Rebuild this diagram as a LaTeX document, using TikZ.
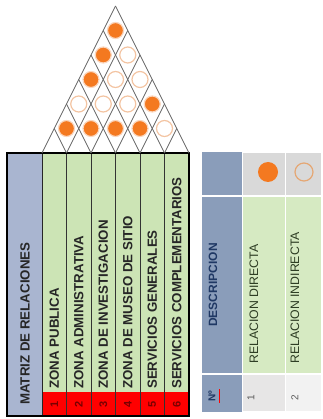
\documentclass[tikz,border=0pt]{standalone}
\usepackage{fontspec}
\setmainfont{Liberation Sans}
\definecolor{matblue}{RGB}{169,181,208}
\definecolor{legblue}{RGB}{138,157,186}
\definecolor{matgreen}{RGB}{204,228,181}
\definecolor{leggreen}{RGB}{214,234,194}
\definecolor{matred}{RGB}{255,0,0}
\definecolor{numred}{RGB}{120,0,0}
\definecolor{orng}{RGB}{244,121,32}
\definecolor{ring}{RGB}{243,196,162}
\definecolor{legring}{RGB}{229,167,116}
\definecolor{halo}{RGB}{250,214,190}
\definecolor{trigray}{RGB}{100,100,100}
\definecolor{navy}{RGB}{31,56,100}
\definecolor{dkgreen}{RGB}{45,60,35}
\definecolor{gryA}{RGB}{217,217,217}
\definecolor{gryB}{RGB}{231,230,230}
\definecolor{gryC}{RGB}{242,242,242}
\begin{document}
\begin{tikzpicture}[x=1pt,y=-1pt,
  tri/.style={draw=trigray,line width=0.8pt},
  dirc/.style={circle,fill=orng,draw=halo,line width=1.2pt,minimum size=16pt,inner sep=0pt},
  indc/.style={circle,draw=ring,line width=1.2pt,minimum size=16pt,inner sep=0pt},
  coltext/.style={rotate=90,anchor=west,inner sep=0pt,font=\bfseries\fontsize{13.3}{14}\selectfont,text=black!85},
  numtext/.style={rotate=90,inner sep=0pt,font=\bfseries\fontsize{11}{12}\selectfont,text=numred},
  legtext/.style={rotate=90,anchor=west,inner sep=0pt,font=\fontsize{12.3}{13}\selectfont,text=dkgreen},
  legcell/.style={draw=white,line width=1.5pt}]
\useasboundingbox (0,0) rectangle (322,419);

% ---- main matrix table ----
\fill[matblue] (7,153) rectangle (42,416);
\foreach \i in {0,...,5}{
  \fill[matgreen] ({42+24.5*\i},153) rectangle ({66.5+24.5*\i},392);
  \fill[matred] ({42+24.5*\i},392) rectangle ({66.5+24.5*\i},416);
}
\foreach \i in {0,...,6}{
  \coordinate (b\i) at ({42+24.5*\i},153);
  \coordinate (d\i) at ({42+24.5*\i},416);
  \coordinate (r\i) at ({(42+24.5*\i+189)/2},{153-(189-42-24.5*\i)});
  \coordinate (l\i) at ({(42+24.5*\i+42)/2},{153-24.5*\i});
}
\foreach \i in {1,...,5}{ \draw[black!80,line width=0.9pt] (b\i) -- (d\i); }
\draw[black!85,line width=1pt] (b0) -- (d0);
\draw[black,line width=1.2pt] (7,153) rectangle (189,416);

\node[coltext] (mat) at (25,405) {MATRIZ DE RELACIONES};
\foreach \i/\t in {0/ZONA PUBLICA,1/ZONA ADMINISTRATIVA,2/ZONA DE INVESTIGACION,3/ZONA DE MUSEO DE SITIO,4/SERVICIOS GENERALES,5/SERVICIOS COMPLEMENTARIOS}{
  \node[coltext] (z\i) at ({54.25+24.5*\i},389) {\t};
  \pgfmathtruncatemacro\n{\i+1}
  \node[numtext] (n\i) at ({54.25+24.5*\i},404) {\n};
}

% ---- relation triangle ----
\foreach \k/\j in {1/0,1/1,1/2,1/3,2/3,3/0,4/0,5/0}{
  \node[dirc] (c\k\j) at ({42+24.5*(\j+(\k+1)/2)},{153-24.5*\k}) {};
}
\foreach \k/\j in {1/4,2/0,2/1,2/2,3/1,3/2,4/1}{
  \node[indc] (c\k\j) at ({42+24.5*(\j+(\k+1)/2)},{153-24.5*\k}) {};
}
\foreach \i in {0,...,5}{ \draw[tri] (b\i) -- (r\i); }
\foreach \i in {1,...,6}{ \draw[tri] (b\i) -- (l\i); }

% ---- legend ----
\fill[legblue] (202,152) rectangle (242.5,412);
\draw[legcell,fill=gryA] (242.5,152) rectangle (285.5,196);
\draw[legcell,fill=gryA] (285.5,152) rectangle (322,196);
\draw[legcell,fill=leggreen] (242.5,196) rectangle (285.5,374);
\draw[legcell,fill=leggreen] (285.5,196) rectangle (322,374);
\draw[legcell,fill=gryB] (242.5,374) rectangle (285.5,412);
\draw[legcell,fill=gryC] (285.5,374) rectangle (322,412);
\draw[white,line width=1.5pt] (202,196) -- (242.5,196);
\draw[white,line width=1.5pt] (202,374) -- (242.5,374);

\node[circle,fill=orng,minimum size=20pt,inner sep=0pt] (ld) at (268,172) {};
\node[circle,draw=legring,line width=1.2pt,minimum size=18pt,inner sep=0pt] (li) at (304,172) {};

\node[rotate=90,inner sep=0pt,font=\bfseries\fontsize{12}{13}\selectfont,text=navy] (desc) at (213,285) {DESCRIPCION};
\node[legtext] (rd) at (254,364) {RELACION DIRECTA};
\node[legtext] (ri) at (295,364) {RELACION INDIRECTA};
\node[rotate=90,inner sep=0pt,font=\bfseries\fontsize{10}{11}\selectfont,text=navy] (no) at (212,396) {Nº};
\draw[red,line width=0.8pt] (219,389) -- (219,403);
\node[rotate=90,inner sep=0pt,font=\fontsize{10}{11}\selectfont,text=black!65] (one) at (251,398) {1};
\node[rotate=90,inner sep=0pt,font=\fontsize{10}{11}\selectfont,text=black!65] (two) at (295,398) {2};
\end{tikzpicture}
\end{document}
